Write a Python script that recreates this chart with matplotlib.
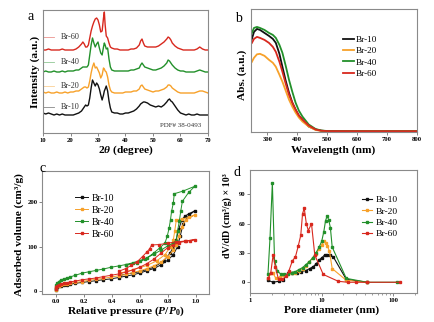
import matplotlib
matplotlib.use('Agg')
import matplotlib.pyplot as plt
from matplotlib.ticker import NullFormatter, LogLocator

plt.rcParams['font.family'] = ['Liberation Serif', 'DejaVu Serif']
plt.rcParams['mathtext.fontset'] = 'custom'
plt.rcParams['mathtext.rm'] = 'Liberation Serif:bold'
plt.rcParams['mathtext.it'] = 'Liberation Serif:italic:bold'
plt.rcParams['mathtext.bf'] = 'Liberation Serif:bold'

# ---------------- data ----------------
names = ['Br-10', 'Br-20', 'Br-40', 'Br-60']
colors = ['#111111', '#f7a12a', '#22902a', '#d8281e']

# (a) XRD, offset patterns (a.u.)
xrd_2theta = [10, 11, 12, 13, 14, 15, 16, 17, 18, 19, 20, 21, 22, 23, 24, 24.5, 25, 25.5, 26, 26.5,
              27, 27.5, 28, 28.5, 29, 29.5, 30, 30.5, 31, 31.5, 32, 32.3, 32.6, 33, 33.5, 34, 34.5, 35,
              36, 37, 38, 39, 40, 41, 42, 43, 44, 45, 45.5, 46, 46.5, 47, 48, 49, 50, 51, 52, 53, 54,
              55, 55.5, 56, 56.5, 57, 58, 59, 60, 61, 62, 63, 64, 65, 66, 67, 68, 69, 70]
xrd_br10 = [20, 19, 20, 19, 18, 19, 18, 19, 18, 18, 18, 18, 19, 20, 22, 24, 26, 28, 27, 28,
            35, 45, 53, 50, 47, 50, 48, 44, 38, 33, 38, 42, 44, 47, 42, 32, 25, 21,
            20, 20, 19, 19, 20, 20, 21, 22, 24, 27, 29, 30, 31, 31, 30, 28, 27, 26, 27, 26, 28,
            31, 33, 34, 32, 31, 27, 23, 20, 19, 18, 19, 18, 18, 19, 18, 18, 18, 18]
xrd_br20 = [41, 40, 41, 40, 40, 41, 40, 40, 41, 40, 41, 41, 42, 42, 44, 45, 46, 46, 45, 46,
            52, 60, 66, 70, 65, 66, 63, 60, 55, 58, 65, 64, 62, 61, 56, 48, 43, 41,
            40, 40, 40, 40, 41, 41, 41, 42, 42, 44, 47, 48, 46, 44, 43, 42, 41, 42, 42, 43, 44,
            46, 48, 48, 47, 45, 43, 41, 40, 40, 40, 40, 40, 40, 41, 42, 42, 41, 40]
xrd_br40 = [61, 62, 61, 61, 62, 61, 61, 62, 61, 62, 62, 62, 63, 63, 65, 66, 66, 66, 66, 68,
            78, 88, 95, 90, 86, 89, 91, 85, 80, 78, 86, 90, 88, 84, 85, 74, 66, 63,
            62, 62, 62, 62, 62, 62, 63, 63, 64, 65, 68, 70, 68, 66, 65, 64, 63, 63, 64, 65, 67,
            70, 73, 72, 70, 68, 65, 63, 62, 62, 61, 61, 61, 61, 62, 63, 62, 61, 61]
xrd_br60 = [83, 83, 84, 83, 83, 83, 83, 84, 83, 83, 83, 83, 84, 86, 89, 91, 89, 86, 86, 88,
            95, 102, 107, 111, 114, 115, 113, 108, 101, 102, 115, 121, 108, 97, 95, 90, 86, 85,
            84, 84, 83, 83, 83, 83, 84, 84, 85, 88, 92, 94, 90, 87, 86, 86, 86, 86, 87, 89, 91,
            94, 96, 95, 93, 90, 87, 85, 84, 83, 83, 83, 83, 83, 84, 86, 84, 83, 83]
xrd_ticks = [10, 20, 30, 40, 50, 60, 70]

# (b) UV-vis absorbance (a.u.)
uv_wl = [248, 255, 265, 275, 290, 305, 318, 328, 340, 350, 361, 372, 383, 394, 405, 417,
         438, 461, 480, 500, 600, 700, 800]
uv_br10 = [93, 100, 103, 102, 99, 96, 93, 89, 78, 65, 51, 39, 29, 22, 16, 12, 5, 2, 0.8, 0.4, 0.3, 0.3, 0.3]
uv_br20 = [70, 74, 77.5, 78, 76, 72, 69, 65, 57, 50, 41, 32, 25, 19, 14, 10, 5, 1.5, 0.6, 0.3, 0.3, 0.3, 0.3]
uv_br40 = [99, 104, 105, 104, 102, 99, 97, 94, 87, 79, 66, 52, 40, 29, 21, 15, 7, 2.5, 1, 0.5, 0.3, 0.3, 0.3]
uv_br60 = [89, 93, 95, 94, 92, 89, 85, 80, 70, 60, 48, 37, 29, 22, 16, 12, 6, 2, 0.8, 0.4, 0.3, 0.3, 0.3]
uv_ticks = [300, 400, 500, 600, 700, 800]

# (c) N2 isotherms: adsorption then desorption branch
iso_p_br10 = [0, 0.005, 0.01, 0.02, 0.04, 0.06, 0.08, 0.1, 0.14, 0.19, 0.24, 0.29, 0.34, 0.395, 0.45,
              0.5, 0.55, 0.6, 0.65, 0.7, 0.75, 0.8, 0.84, 0.87, 0.89, 0.91, 0.95, 0.995,
              0.95, 0.92, 0.9, 0.88, 0.86, 0.84, 0.816, 0.77, 0.7, 0.6, 0.46]
iso_v_br10 = [3, 7, 9, 11, 13, 14, 15, 16, 18, 20, 22, 24, 26, 28, 31,
              34, 37, 41, 46, 51, 59, 70, 82, 100, 125, 150, 170, 181,
              174, 168, 160, 140, 115, 100, 85, 68, 54, 44, 36]
iso_p_br20 = [0, 0.005, 0.01, 0.02, 0.04, 0.06, 0.08, 0.1, 0.14, 0.19, 0.24, 0.29, 0.34, 0.395, 0.45,
              0.5, 0.55, 0.6, 0.65, 0.7, 0.75, 0.8, 0.84, 0.86, 0.88, 0.9, 0.93, 0.995,
              0.95, 0.9, 0.862, 0.85, 0.84, 0.82, 0.78, 0.72, 0.65, 0.55, 0.46]
iso_v_br20 = [4, 9, 11, 13, 15, 16, 17, 18, 20, 22, 25, 27, 29, 32, 35,
              38, 42, 46, 51, 57, 65, 78, 92, 105, 125, 145, 160, 172,
              166, 162, 161, 135, 115, 100, 82, 68, 58, 48, 41]
iso_p_br40 = [0, 0.005, 0.01, 0.02, 0.04, 0.06, 0.08, 0.1, 0.14, 0.19, 0.24, 0.29, 0.34, 0.395, 0.45,
              0.5, 0.55, 0.6, 0.65, 0.7, 0.75, 0.8, 0.84, 0.86, 0.87, 0.883, 0.893, 0.905, 0.95, 0.995,
              0.91, 0.847, 0.84, 0.828, 0.82, 0.81, 0.797, 0.78, 0.745, 0.7, 0.64, 0.58, 0.5]
iso_v_br40 = [5, 14, 18, 22, 26, 28, 30, 32, 36, 41, 44, 47, 50, 54, 57,
              60, 64, 69, 75, 83, 92, 102, 108, 114, 135, 157, 180, 202, 222, 236,
              225, 219, 198, 180, 161, 142, 124, 108, 98, 86, 72, 64, 59]
iso_p_br60 = [0, 0.005, 0.01, 0.02, 0.04, 0.06, 0.08, 0.1, 0.14, 0.19, 0.24, 0.29, 0.34, 0.395, 0.45,
              0.5, 0.55, 0.6, 0.65, 0.7, 0.75, 0.8, 0.84, 0.88, 0.92, 0.96, 0.995,
              0.93, 0.86, 0.8, 0.74, 0.685, 0.67, 0.65, 0.62, 0.58, 0.54, 0.5, 0.45]
iso_v_br60 = [5, 9, 12, 14, 16, 18, 19, 21, 23, 26, 28, 30, 33, 36, 39,
              43, 48, 54, 62, 72, 85, 98, 105, 109, 112, 114, 116,
              113, 111, 108, 105, 104, 95, 88, 78, 66, 58, 51, 45]
iso_xticks = [0.0, 0.2, 0.4, 0.6, 0.8, 1.0]
iso_yticks = [0, 100, 200]

# (d) BJH pore size distribution
psd_d_br10 = [1.78, 2.1, 2.5, 2.9, 3.4, 3.9, 4.5, 5.2, 6.0, 6.8, 7.6, 8.4, 9.2, 10.0, 11.0, 12.0, 13.0, 14.5, 22, 43]
psd_v_br10 = [2, 0, 1, 2, 10, 10, 9, 11, 12, 14, 16, 19, 23, 25, 28, 28, 28, 26, 3, 0]
psd_d_br20 = [1.78, 1.95, 2.1, 2.3, 2.6, 3.0, 3.4, 3.8, 4.3, 4.8, 5.4, 6.0, 6.7, 7.5, 8.3, 9.2,
              10.0, 10.7, 11.3, 12.0, 12.8, 14.0, 22, 43]
psd_v_br20 = [4, 9, 9, 4, 5, 7, 8, 9, 10, 12, 14, 17, 21, 25, 29, 34, 38, 42, 40, 37, 32, 14, 2, 0]
psd_d_br40 = [1.78, 1.9, 2.05, 2.2, 2.4, 2.7, 3.0, 3.4, 3.8, 4.3, 4.8, 5.4, 6.0, 6.7, 7.5, 8.3,
              9.2, 10.0, 10.7, 11.3, 11.9, 12.5, 13.2, 14.0, 22, 43, 111]
psd_v_br40 = [8, 45, 102, 22, 12, 8, 8, 8, 10, 11, 13, 15, 18, 21, 25, 30,
              36, 42, 52, 63, 68, 64, 56, 36, 4, 0, 0]
psd_d_br60 = [1.8, 1.95, 2.1, 2.25, 2.5, 2.8, 3.2, 3.5, 3.9, 4.3, 4.7, 5.1, 5.4, 5.7, 6.1, 6.5,
              7.2, 8.0, 10.5, 17, 23, 30, 43, 125]
psd_v_br60 = [4, 10, 28, 16, 3, 3, 6, 12, 22, 26, 37, 48, 70, 76, 60, 53, 60, 28, 8, 1, 0, 0, 0, 0]
psd_yticks = [0, 30, 60, 90]

# ---------------- figure ----------------
W, H = 435, 322
fig = plt.figure(figsize=(W / 100, H / 100), dpi=100)

def px_axes(l, t, r, b):
    return fig.add_axes([l / W, (H - b) / H, (r - l) / W, (b - t) / H])

axa = px_axes(43, 10, 208, 133)
axb = px_axes(251, 9, 417, 132)
axc = px_axes(42, 171, 209, 294)
axd = px_axes(250, 170, 417, 293)

spine_col = '#8a8a8a'
for ax in (axa, axb, axc, axd):
    for s in ax.spines.values():
        s.set_color(spine_col)
        s.set_linewidth(0.8)
    ax.tick_params(labelsize=4.8, width=0.5, length=2, pad=1.3, color='#555555')

def bold_ticks(ax):
    for lab in ax.get_xticklabels() + ax.get_yticklabels():
        lab.set_fontweight('bold')

def set_labels(ax, xl, yl, xpos, ypos, fs=8.2):
    ax.set_xlabel(xl, fontsize=fs, fontweight='bold')
    ax.set_ylabel(yl, fontsize=fs, fontweight='bold')
    ax.xaxis.set_label_coords(*xpos)
    ax.yaxis.set_label_coords(*ypos)
    ax.xaxis.label.set_va('center')
    ax.yaxis.label.set_va('center')

# (a)
xrd = [xrd_br10, xrd_br20, xrd_br40, xrd_br60]
for ys, c in zip(xrd, colors):
    axa.plot(xrd_2theta, ys, color=c, lw=1.0)
axa.set_xlim(10, 70)
axa.set_ylim(0, 123)
axa.set_xticks(xrd_ticks)
axa.set_yticks([])
legend_a_y = [0.211, 0.382, 0.577, 0.78]
for n, c, yy in zip(names, colors, legend_a_y):
    axa.plot([0.0, 0.065], [yy, yy], transform=axa.transAxes, color=c, lw=0.6, alpha=0.5)
    axa.text(0.105, yy, n, transform=axa.transAxes, fontsize=5.9, color='#333333', va='center')
axa.text(0.96, 0.06, 'PDF# 38-0493', transform=axa.transAxes, fontsize=5, color='#333333',
         ha='right', va='center')
set_labels(axa, r'2$\theta$ (degree)', 'Intensity (a.u.)', (0.5, -0.138), (-0.045, 0.5))
fig.text(31 / W, 1 - 16 / H, 'a', fontsize=10, ha='center', va='center')

# (b)
uv = [uv_br10, uv_br20, uv_br40, uv_br60]
for ys, c, n in zip(uv, colors, names):
    axb.plot(uv_wl, ys, color=c, lw=1.3, label=n)
axb.set_xlim(245, 800)
axb.set_ylim(-0.5, 123)
axb.set_xticks(uv_ticks)
axb.set_yticks([])
axb.legend(loc='upper left', bbox_to_anchor=(0.554, 0.785), frameon=False, fontsize=6.6,
           handlelength=1.15, handletextpad=0.3, labelspacing=0.32, borderpad=0, borderaxespad=0)
set_labels(axb, 'Wavelength (nm)', 'Abs. (a.u.)', (0.494, -0.146), (-0.054, 0.463))
fig.text(238 / W, 1 - 18 / H, 'b', fontsize=10, ha='center', va='center')

# (c)
iso = [(iso_p_br10, iso_v_br10), (iso_p_br20, iso_v_br20), (iso_p_br40, iso_v_br40), (iso_p_br60, iso_v_br60)]
for (p, v), c, n in zip(iso, colors, names):
    axc.plot(p, v, color=c, lw=0.7, marker='s', ms=2.0, mec=c, mfc=c, label=n)
axc.set_xlim(-0.098, 1.095)
axc.set_ylim(-6, 270)
axc.set_xticks(iso_xticks)
axc.set_xticklabels(['0.0', '0.2', '0.4', '0.6', '0.8', '1.0'])
axc.set_yticks(iso_yticks)
axc.legend(loc='upper left', bbox_to_anchor=(0.198, 0.815), frameon=False, fontsize=7,
           handlelength=1.35, handletextpad=0.4, labelspacing=0.3, borderpad=0, borderaxespad=0)
set_labels(axc, r'Relative pressure ($P$/$P_0$)', 'Adsorbed volume (cm³/g)',
           (0.5, -0.14), (-0.138, 0.48))
fig.text(43 / W, 1 - 168 / H, 'c', fontsize=10, ha='center', va='center')

# (d)
psd = [(psd_d_br10, psd_v_br10), (psd_d_br20, psd_v_br20), (psd_d_br40, psd_v_br40), (psd_d_br60, psd_v_br60)]
for (d, v), c, n in zip(psd, colors, names):
    axd.plot(d, v, color=c, lw=0.8, marker='s', ms=2.0, mec=c, mfc=c, label=n)
axd.set_xscale('log')
axd.set_xlim(1, 213)
axd.set_ylim(-11, 115)
axd.set_xticks([1, 10, 100])
axd.set_xticklabels(['1', '10', '100'])
axd.xaxis.set_minor_locator(LogLocator(base=10, subs=range(2, 10)))
axd.xaxis.set_minor_formatter(NullFormatter())
axd.tick_params(which='minor', length=1.2, width=0.4, color='#555555')
axd.set_yticks(psd_yticks)
axd.legend(loc='upper left', bbox_to_anchor=(0.671, 0.793), frameon=False, fontsize=6.8,
           handlelength=1.1, handletextpad=0.3, labelspacing=0.3, borderpad=0, borderaxespad=0)
set_labels(axd, 'Pore diameter (nm)', 'dV/dD (cm³/g) × 10³', (0.49, -0.138), (-0.138, 0.626), fs=8.2)
axd.yaxis.label.set_fontsize(7.2)
fig.text(237 / W, 1 - 173 / H, 'd', fontsize=10, ha='center', va='center')

for ax in (axa, axb, axc, axd):
    bold_ticks(ax)

fig.savefig('out.png', dpi=100)
